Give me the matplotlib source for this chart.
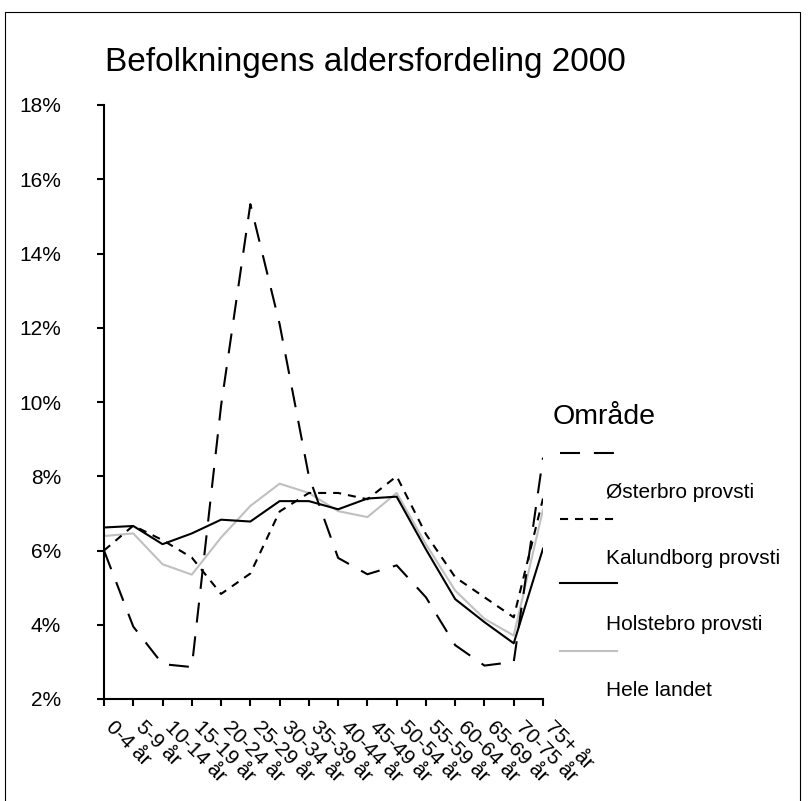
import matplotlib
matplotlib.use("Agg")
import matplotlib.pyplot as plt
import matplotlib.transforms as mtransforms
from matplotlib.lines import Line2D

plt.rcParams['font.family'] = ['Liberation Sans', 'DejaVu Sans']
plt.rcParams['lines.scale_dashes'] = False

categories = ['0-4 år', '5-9 år', '10-14 år', '15-19 år', '20-24 år', '25-29 år',
              '30-34 år', '35-39 år', '40-44 år', '45-49 år', '50-54 år', '55-59 år',
              '60-64 år', '65-69 år', '70-75 år', '75+ år']

# andel af befolkningen i procent
osterbro = [6.0, 3.95, 2.94, 2.86, 9.9, 15.33, 12.1, 8.0, 5.8, 5.36, 5.6, 4.74, 3.45, 2.9, 3.0, 8.5]
kalundborg = [6.0, 6.67, 6.28, 5.81, 4.83, 5.38, 7.05, 7.55, 7.55, 7.38, 8.0, 6.44, 5.28, 4.74, 4.2, 7.4]
holstebro = [6.62, 6.66, 6.17, 6.46, 6.83, 6.78, 7.33, 7.33, 7.11, 7.40, 7.45, 6.03, 4.69, 4.07, 3.5, 6.05]
hele_landet = [6.39, 6.46, 5.63, 5.35, 6.35, 7.2, 7.8, 7.55, 7.06, 6.9, 7.55, 6.17, 4.92, 4.16, 3.71, 7.1]

series_names = ['Østerbro provsti', 'Kalundborg provsti', 'Holstebro provsti', 'Hele landet']
yticks = [2, 4, 6, 8, 10, 12, 14, 16, 18]

W, H = 811, 801
fig = plt.figure(figsize=(W / 100, H / 100), dpi=100)

def fx(x):
    return x / W

def fy(y):
    return 1 - y / H

ax = fig.add_axes([fx(104), fy(699), (543 - 104) / W, (699 - 105) / H])

long_dash = (0, (14.4, 10))
short_dash = (0, (5.8, 5))
styles = [dict(color='black', linestyle=long_dash),
          dict(color='black', linestyle=short_dash),
          dict(color='black', linestyle='-'),
          dict(color='#c0c0c0', linestyle='-')]

x = list(range(len(categories)))
ax.plot(x, hele_landet, lw=1.5, **styles[3])
ax.plot(x, osterbro, lw=1.5, **styles[0])
ax.plot(x, kalundborg, lw=1.5, **styles[1])
ax.plot(x, holstebro, lw=1.5, **styles[2])

ax.set_xlim(0, len(categories) - 1)
ax.set_ylim(2, 18)
ax.set_yticks(yticks)
ax.set_yticklabels([f'{v}%' for v in yticks])
ax.set_xticks(x)
ax.set_xticklabels(categories, rotation=-45, ha='left', va='top', rotation_mode='anchor')

for s in ['top', 'right']:
    ax.spines[s].set_visible(False)
for s in ['left', 'bottom']:
    ax.spines[s].set_linewidth(1.5)
ax.tick_params(axis='y', length=5, width=1.5, pad=26, labelsize=15)
ax.tick_params(axis='x', length=5, width=1.5, pad=8, labelsize=15)

offset = mtransforms.ScaledTranslation(0.12, 0, fig.dpi_scale_trans)
for lab in ax.get_xticklabels():
    lab.set_transform(lab.get_transform() + offset)

fig.text(fx(105), fy(63), 'Befolkningens aldersfordeling 2000', fontsize=24,
         ha='left', va='center')

# forklaring
fig.text(fx(553), fy(417), 'Område', fontsize=20.5, ha='left', va='center')
line_y = [453, 519, 583, 651]
text_y = [493, 559, 625, 691]
for i, name in enumerate(series_names):
    fig.add_artist(Line2D([fx(560), fx(617)], [fy(line_y[i]), fy(line_y[i])],
                          transform=fig.transFigure, lw=1.5, **styles[i]))
    fig.text(fx(606), fy(text_y[i]), name, fontsize=15, ha='left', va='center')

# ramme
fig.add_artist(Line2D([fx(5), fx(5), fx(800), fx(800)], [fy(801), fy(12), fy(12), fy(801)],
                      transform=fig.transFigure, color='black', lw=0.8))

fig.savefig('out.png', dpi=100)
